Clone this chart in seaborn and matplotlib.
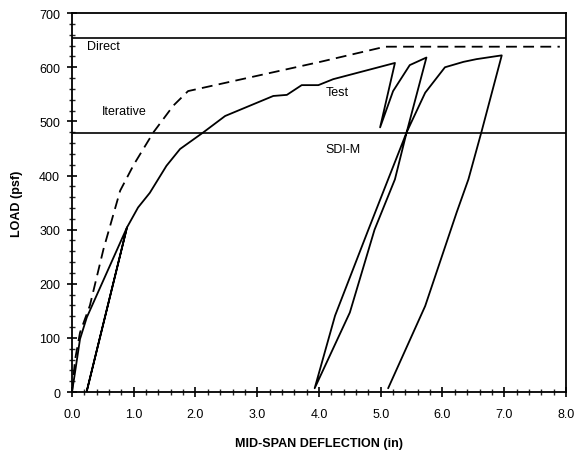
import matplotlib
matplotlib.use("Agg")
import matplotlib.pyplot as plt
import seaborn as sns
import pandas as pd
from matplotlib.ticker import MultipleLocator

# Data
test_x = [0.0, 0.05, 0.13, 0.24, 0.89, 0.24, 0.89, 1.07, 1.26, 1.53, 1.75, 2.13, 2.48,
          3.26, 3.48, 3.72, 3.99, 4.23, 5.23, 4.99, 5.20, 5.47, 5.74, 5.42, 5.23, 4.90,
          4.50, 3.93, 4.26, 4.80, 5.12, 5.42, 5.72, 6.04, 6.34, 6.55, 6.96, 6.63, 6.42,
          6.23, 5.72, 5.12]
test_y = [0, 37, 98, 138, 304, 2, 304, 341, 368, 418, 449, 480, 510,
          547, 549, 567, 567, 578, 608, 489, 556, 604, 618, 480, 393, 300,
          147, 7, 141, 300, 393, 480, 553, 600, 610, 615, 622, 480, 393,
          332, 159, 7]
iter_x = [0.0, 0.05, 0.13, 0.29, 0.51, 0.78, 1.0, 1.32, 1.64, 1.88, 4.02, 5.07, 7.9]
iter_y = [0, 60, 110, 160, 264, 372, 420, 480, 529, 556, 610, 638, 638]
direct_load = 654
sdim_load = 478

test_df = pd.DataFrame({"x": test_x, "y": test_y})
iter_df = pd.DataFrame({"x": iter_x, "y": iter_y})

sns.set_style("white")
plt.rcParams["font.family"] = ["Liberation Sans", "DejaVu Sans"]
plt.rcParams["text.color"] = "black"
plt.rcParams["axes.labelcolor"] = "black"

fig = plt.figure(figsize=(5.75, 4.56), dpi=100)
ax = fig.add_axes([0.1252, 0.138, 0.8591, 0.831])

sns.lineplot(data=test_df, x="x", y="y", sort=False, estimator=None, color="black",
             linewidth=1.3, ax=ax)
sns.lineplot(data=iter_df, x="x", y="y", sort=False, estimator=None, color="black",
             linewidth=1.3, ax=ax, linestyle=(0, (6, 3.5)))
ax.axhline(direct_load, color="black", linewidth=1.2)
ax.axhline(sdim_load, color="black", linewidth=1.2)

ax.text(0.24, 639, "Direct", fontsize=9, va="center", ha="left", color="black")
ax.text(0.49, 519, "Iterative", fontsize=9, va="center", ha="left", color="black")
ax.text(4.11, 554, "Test", fontsize=9, va="center", ha="left", color="black")
ax.text(4.11, 449, "SDI-M", fontsize=9, va="center", ha="left", color="black")

ax.set_xlim(0, 8)
ax.set_ylim(0, 700)
ax.xaxis.set_major_locator(MultipleLocator(1))
ax.xaxis.set_minor_locator(MultipleLocator(0.2))
ax.yaxis.set_major_locator(MultipleLocator(100))
ax.yaxis.set_minor_locator(MultipleLocator(20))
ax.set_xticks([0, 1, 2, 3, 4, 5, 6, 7, 8])
ax.set_xticklabels(["0.0", "1.0", "2.0", "3.0", "4.0", "5.0", "6.0", "7.0", "8.0"])
ax.tick_params(axis="both", which="major", direction="inout", length=7, width=1.2,
               labelsize=9, colors="black", pad=5)
ax.tick_params(axis="x", which="major", pad=8)
ax.tick_params(axis="both", which="minor", direction="inout", length=4, width=1.0)
ax.tick_params(axis="x", which="both", bottom=True)
ax.tick_params(axis="y", which="both", left=True)

for s in ax.spines.values():
    s.set_color("black")
    s.set_linewidth(1.3)

ax.set_xlabel("MID-SPAN DEFLECTION (in)", fontsize=9, fontweight="bold", labelpad=12,
              color="black")
ax.set_ylabel("LOAD (psf)", fontsize=9, fontweight="bold", labelpad=12, color="black")

fig.savefig("out.png", dpi=100)
